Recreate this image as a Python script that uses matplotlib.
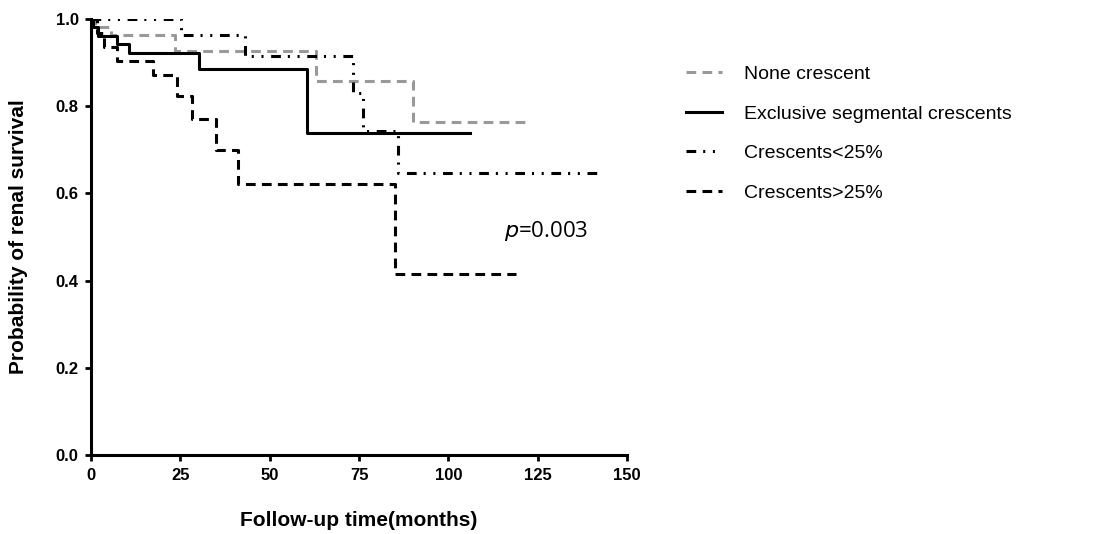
import matplotlib
matplotlib.use('Agg')
import matplotlib.pyplot as plt

# Kaplan-Meier step data
none_t = [0, 1, 5.6, 23.5, 63, 90, 123]
none_s = [1.0, 0.981, 0.963, 0.926, 0.857, 0.764, 0.764]

seg_t = [0, 0.5, 2, 7.3, 10.5, 30.3, 60.4, 106]
seg_s = [1.0, 0.981, 0.962, 0.942, 0.923, 0.885, 0.738, 0.738]

lt25_t = [0, 25.3, 43, 73.2, 76, 85.9, 143]
lt25_s = [1.0, 0.963, 0.915, 0.83, 0.743, 0.646, 0.646]

gt25_t = [0, 1.7, 3.5, 7.2, 17.3, 24.2, 28.3, 35.1, 41, 85.2, 119]
gt25_s = [1.0, 0.967, 0.935, 0.903, 0.871, 0.823, 0.770, 0.70, 0.622, 0.415, 0.415]

labels = ['None crescent', 'Exclusive segmental crescents',
          'Crescents<25%', 'Crescents>25%']
xticks = [0, 25, 50, 75, 100, 125, 150]
yticks = [0.0, 0.2, 0.4, 0.6, 0.8, 1.0]

plt.rcParams['font.family'] = ['Liberation Sans', 'DejaVu Sans']
plt.rcParams['lines.scale_dashes'] = False

fig = plt.figure(figsize=(11.17, 5.34), dpi=100)
ax = fig.add_axes([0.0815, 0.1479, 0.4798, 0.8165])

lw = 2.2
ax.step(none_t, none_s, where='post', color='#999999', lw=lw,
        dashes=(7, 4.5), label=labels[0])
ax.step(seg_t, seg_s, where='post', color='black', lw=lw, label=labels[1])
ax.step(lt25_t, lt25_s, where='post', color='black', lw=lw,
        dashes=(7, 5, 1.5, 5.5, 1.5, 5.5), label=labels[2])
ax.step(gt25_t, gt25_s, where='post', color='black', lw=lw,
        dashes=(7, 4.5), label=labels[3])

ax.set_xlim(0, 150)
ax.set_ylim(0, 1.0)
ax.set_xticks(xticks)
ax.set_xticklabels([str(v) for v in xticks])
ax.set_yticks(yticks)
ax.set_yticklabels(['%.1f' % v for v in yticks])
for s in ['top', 'right']:
    ax.spines[s].set_visible(False)
for s in ['left', 'bottom']:
    ax.spines[s].set_linewidth(2.2)
ax.tick_params(direction='out', length=4, width=2, labelsize=12, pad=5)
for t in ax.get_xticklabels() + ax.get_yticklabels():
    t.set_fontweight('bold')

ax.set_xlabel('Follow-up time(months)', fontsize=15, fontweight='bold')
ax.set_ylabel('Probability of renal survival', fontsize=15, fontweight='bold')
ax.xaxis.set_label_coords(0.5, -0.128)
ax.yaxis.set_label_coords(-0.117, 0.5)

ax.text(115.5, 0.514, r'$\it{p}$=0.003', fontsize=16, family='Open Sans',
        va='center', ha='left')

leg = ax.legend(loc='upper left', bbox_to_anchor=(0.607, 0.892),
                bbox_transform=fig.transFigure, frameon=False, fontsize=14,
                handlelength=1.86, handletextpad=1.13, labelspacing=1.13,
                borderaxespad=0)

fig.savefig('out.png', dpi=100)
